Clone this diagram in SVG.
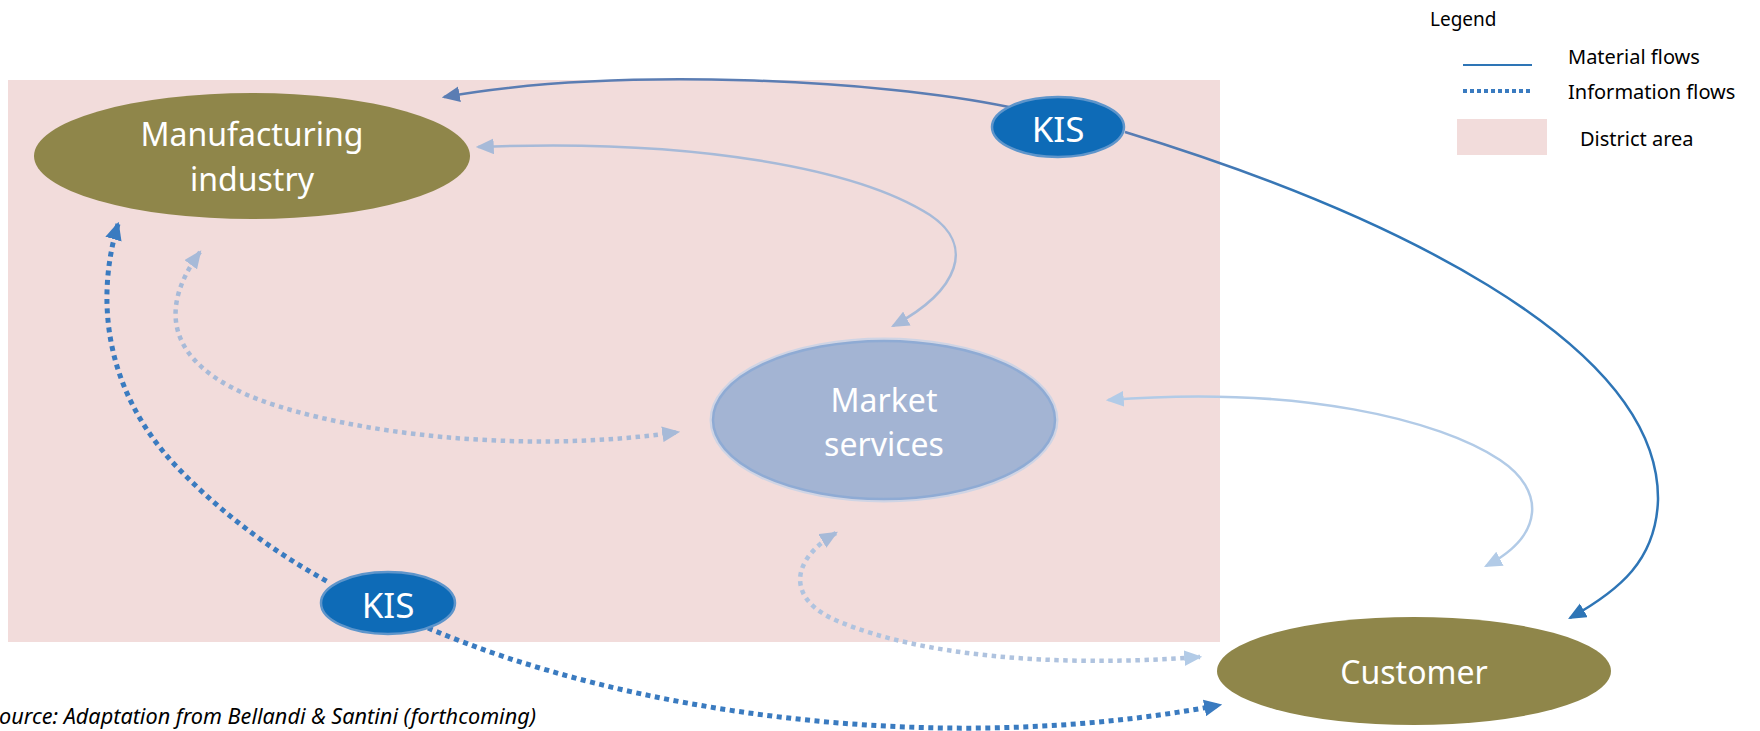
<svg xmlns="http://www.w3.org/2000/svg" width="1760" height="731" viewBox="0 0 1760 731">
<style>
.lbl{font-family:"Noto Sans","Open Sans",sans-serif;fill:#ffffff;text-anchor:middle;font-size:32px}
.kis{font-size:35px}
.leg{font-family:"Noto Sans","Open Sans",sans-serif;fill:#000000;font-size:20px}
.olive{fill:#8F864A}
.kisE{fill:#0E6BB7;stroke:#5E95CB;stroke-width:2.5}
.c{fill:none;stroke-width:2.5}
.dot{fill:none;stroke-width:4.5;stroke-dasharray:4.5 4.5}
.dotD{fill:none;stroke-width:5;stroke-dasharray:5 4.5}
</style>
<defs>
<marker id="aSteel" markerUnits="userSpaceOnUse" markerWidth="18" markerHeight="16" refX="14" refY="7" orient="auto-start-reverse" viewBox="0 0 16 14"><path d="M0,0 L16,7 L0,14 z" fill="#5B7DB3"/></marker>
<marker id="aDark" markerUnits="userSpaceOnUse" markerWidth="18" markerHeight="16" refX="14" refY="7" orient="auto-start-reverse" viewBox="0 0 16 14"><path d="M0,0 L16,7 L0,14 z" fill="#2E75B6"/></marker>
<marker id="aLight" markerUnits="userSpaceOnUse" markerWidth="18" markerHeight="16" refX="14" refY="7" orient="auto-start-reverse" viewBox="0 0 16 14"><path d="M0,0 L16,7 L0,14 z" fill="#A7BAD8"/></marker>
<marker id="aPale" markerUnits="userSpaceOnUse" markerWidth="18" markerHeight="16" refX="14" refY="7" orient="auto-start-reverse" viewBox="0 0 16 14"><path d="M0,0 L16,7 L0,14 z" fill="#B2CBE7"/></marker>
<marker id="aDot" markerUnits="userSpaceOnUse" markerWidth="18" markerHeight="17" refX="14" refY="7.5" orient="auto-start-reverse" viewBox="0 0 16 15"><path d="M0,0 L16,7.5 L0,15 z" fill="#3A7BC0"/></marker>
<linearGradient id="gR" gradientUnits="userSpaceOnUse" x1="1125" y1="0" x2="1320" y2="0"><stop offset="0" stop-color="#5B7DB3"/><stop offset="1" stop-color="#2E75B6"/></linearGradient>
</defs>

<rect id="district" x="8" y="80" width="1212" height="562" fill="#F2DCDB"/>

<g id="legend">
<text class="leg" x="1430" y="26" style="font-size:19px">Legend</text>
<line x1="1463" y1="65" x2="1532" y2="65" stroke="#2E75B6" stroke-width="2"/>
<text class="leg" x="1568" y="64">Material flows</text>
<line x1="1463" y1="91" x2="1532" y2="91" stroke="#3A7BC0" stroke-width="4" stroke-dasharray="4 3"/>
<text class="leg" x="1568" y="99">Information flows</text>
<rect x="1457" y="119" width="90" height="36" fill="#F2DCDB"/>
<text class="leg" x="1580" y="146">District area</text>
</g>

<g id="connectors">
<path class="c" stroke="#5B7DB3" d="M1009,107 C880,80 620,66 444,97" marker-end="url(#aSteel)"/>
<path class="c" stroke="url(#gR)" d="M1125,132 C1380,210 1660,340 1658,500 C1656,560 1620,590 1570,618" marker-end="url(#aDark)"/>
<path class="c" stroke="#A7BAD8" d="M478,147 C700,138 860,170 930,215 C975,245 960,290 893,326" marker-start="url(#aLight)" marker-end="url(#aLight)"/>
<path class="c" stroke="#B2CBE7" d="M1108,400 C1300,385 1440,420 1500,460 C1545,490 1545,535 1486,566" marker-start="url(#aPale)" marker-end="url(#aPale)"/>
<path class="dot" stroke="#A7BAD8" d="M200,252 C150,320 180,370 260,400 C350,433 520,455 678,432" marker-start="url(#aLight)" marker-end="url(#aLight)"/>
<path class="dot" stroke="#AFC3DF" d="M836,533 C790,560 785,600 840,622 C920,655 1050,668 1200,657" marker-start="url(#aLight)" marker-end="url(#aPale)"/>
<path class="dotD" stroke="#3A7BC0" d="M118,224 C95,300 105,390 175,465 C220,512 270,550 330,583" marker-start="url(#aDot)"/>
<path class="dotD" stroke="#3A7BC0" d="M428,628 C620,710 930,760 1220,705" marker-end="url(#aDot)"/>
</g>

<g id="manufacturing">
<ellipse class="olive" cx="252" cy="156" rx="218" ry="63"/>
<text class="lbl" x="252" y="146">Manufacturing</text>
<text class="lbl" x="252" y="191">industry</text>
</g>

<g id="market">
<ellipse cx="884" cy="420" rx="173" ry="81" fill="none" stroke="#CFD4E4" stroke-width="3"/>
<ellipse cx="884" cy="420" rx="171" ry="79" fill="#A3B4D3" stroke="#8FABD4" stroke-width="2.5"/>
<text class="lbl" x="884" y="412">Market</text>
<text class="lbl" x="884" y="456">services</text>
</g>

<g id="customer">
<ellipse class="olive" cx="1414" cy="671" rx="197" ry="54"/>
<text class="lbl" x="1414" y="684">Customer</text>
</g>

<g id="kis-top">
<ellipse class="kisE" cx="1058" cy="127" rx="66" ry="30"/>
<text class="lbl kis" x="1058" y="142">KIS</text>
</g>

<g id="kis-bottom">
<ellipse class="kisE" cx="388" cy="603" rx="67" ry="31"/>
<text class="lbl kis" x="388" y="618">KIS</text>
</g>

<text id="source" x="-1" y="724" font-family="Noto Sans, Open Sans, sans-serif" font-style="italic" font-size="21.5" fill="#000000" textLength="537" lengthAdjust="spacingAndGlyphs">ource: Adaptation from Bellandi &amp; Santini (forthcoming)</text>
</svg>
